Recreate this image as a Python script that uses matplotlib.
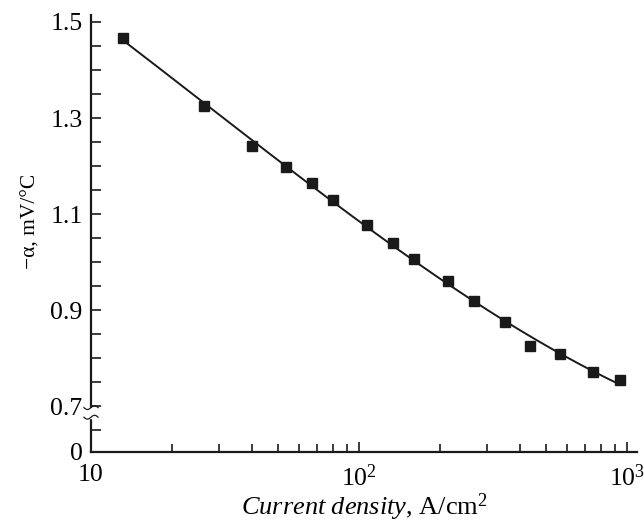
import numpy as np
import matplotlib
matplotlib.use('Agg')
import matplotlib.pyplot as plt
import matplotlib.transforms as mtransforms

plt.rcParams['font.family'] = 'Liberation Serif'
plt.rcParams['mathtext.fontset'] = 'custom'
plt.rcParams['mathtext.rm'] = 'Liberation Serif'
plt.rcParams['mathtext.it'] = 'Liberation Serif:italic'

# data
current = [13.2, 26.4, 39.9, 53.4, 66.8, 80.0, 107, 134, 160, 215, 269, 351, 435, 562, 747, 942]
alpha = [1.467, 1.326, 1.241, 1.197, 1.164, 1.129, 1.077, 1.040, 1.007, 0.961,
         0.918, 0.876, 0.826, 0.808, 0.772, 0.754]

x_ticks = [10, 100, 1000]
x_ticklabels = ['10', '$10^2$', '$10^3$']
y_zero = 0.6046   # where "0" sits below the axis break
y_ticks = [y_zero, 0.7, 0.9, 1.1, 1.3, 1.5]
y_ticklabels = ['0', '0.7', '0.9', '1.1', '1.3', '1.5']
y_minor = [0.65, 0.75, 0.8, 0.85, 0.95, 1.0, 1.05, 1.15, 1.2, 1.25, 1.35, 1.4, 1.45]

# smooth fitted curve through the points
lx = np.log10(current)
coef = np.polyfit(lx, alpha, 3)
fit_x = np.linspace(lx[0], lx[-1], 200)
fit_y = np.polyval(coef, fit_x)

fig = plt.figure(figsize=(6.44, 5.23), dpi=100)
ax = fig.add_axes([0.1413, 0.1358, 0.989 - 0.1413, 0.9713 - 0.1358])

ax.plot(10 ** fit_x, fit_y, color='#1a1a1a', lw=1.4, zorder=2)
ax.plot(current, alpha, 's', color='#1a1a1a', ms=7, zorder=3)

ax.set_xscale('log')
ax.set_xlim(10, 1090)
ax.set_ylim(y_zero, 1.5145)

ax.set_xticks(x_ticks)
ax.set_xticklabels(x_ticklabels)
ax.set_yticks(y_ticks)
ax.set_yticklabels(y_ticklabels)
ax.set_yticks(y_minor, minor=True)

for s in ['top', 'right']:
    ax.spines[s].set_visible(False)
for s in ['left', 'bottom']:
    ax.spines[s].set_linewidth(1.6)
    ax.spines[s].set_color('#1a1a1a')

ax.tick_params(which='both', direction='in', labelsize=18.5, color='#1a1a1a', width=1.2)
ax.tick_params(axis='x', which='major', length=7.5, pad=9)
ax.tick_params(axis='x', which='minor', length=5.5)
ax.tick_params(axis='y', which='both', length=7.5, pad=6)

ax.set_xlabel('$\\it{Current\\ density}$, A/cm$^{2}$', fontsize=19)
ax.xaxis.set_label_coords(0.5, -0.09)
ax.set_ylabel('\u2212\u03b1, mV/\u00b0C', fontsize=15.5)
ax.yaxis.set_label_coords(-0.092, 0.528)

# axis break mark on the left spine
trans = mtransforms.blended_transform_factory(ax.transAxes, ax.transData)
ax.fill_between([-0.012, 0.012], 0.676, 0.697, color='white', transform=trans,
                clip_on=False, zorder=5)
t = np.linspace(-0.013, 0.013, 50)
for off in (0.697, 0.677):
    ax.plot(t, off + 0.004 * np.sin(t / 0.013 * np.pi), color='#1a1a1a', lw=0.9,
            transform=trans, clip_on=False, zorder=6)

fig.savefig('out.png', dpi=100)
